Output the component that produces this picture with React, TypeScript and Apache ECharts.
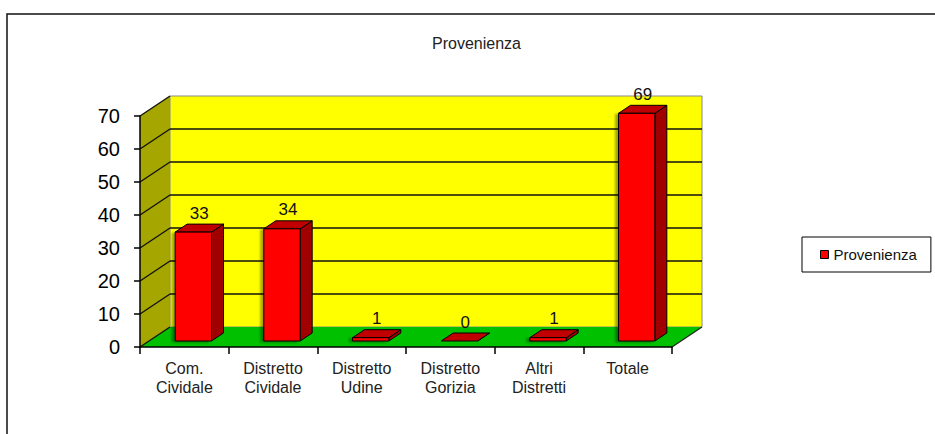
import React, { useEffect, useRef } from "react";
import * as echarts from "echarts";

const categories = [
  "Com.\nCividale",
  "Distretto\nCividale",
  "Distretto\nUdine",
  "Distretto\nGorizia",
  "Altri\nDistretti",
  "Totale",
];
const values = [33, 34, 1, 0, 1, 69];
const yMin = 0;
const yMax = 70;
const yStep = 10;
const yTicks = [0, 10, 20, 30, 40, 50, 60, 70];
const seriesName = "Provenienza";
const chartTitle = "Provenienza";

const FONT = "'Liberation Sans', Arial, Helvetica, sans-serif";
const DX = 30;
const DY = -20;

export default function App() {
  const ref = useRef<HTMLDivElement>(null);
  useEffect(() => {
    document.body.style.margin = "0";
    document.body.style.overflow = "hidden";
    if (!ref.current) return;
    const chart = echarts.init(ref.current, undefined, { renderer: "svg" });

    const wallsRender = (params: any, api: any) => {
      const cs = params.coordSys;
      const x0 = cs.x;
      const x1 = cs.x + cs.width;
      const yb = api.coord([0, yMin])[1];
      const yt = api.coord([0, yMax])[1];
      const children: any[] = [];
      children.push({
        type: "polygon",
        shape: { points: [[x0, yt], [x0 + DX, yt + DY], [x0 + DX, yb + DY], [x0, yb]] },
        style: { fill: "#a6a600", stroke: "none" },
      });
      children.push({
        type: "rect",
        shape: { x: x0 + DX, y: yt + DY, width: x1 - x0, height: yb - yt },
        style: { fill: "#ffff00", stroke: "#8a8a8a", lineWidth: 1 },
      });
      children.push({
        type: "polygon",
        shape: { points: [[x0, yb], [x0 + DX, yb + DY], [x1 + DX, yb + DY], [x1, yb]] },
        style: { fill: "#00c000", stroke: "none" },
      });
      children.push({
        type: "line",
        shape: { x1: x1, y1: yb, x2: x1 + DX, y2: yb + DY },
        style: { stroke: "#222", lineWidth: 1.2 },
      });
      yTicks.forEach((v) => {
        const y = api.coord([0, v])[1];
        children.push({
          type: "line",
          shape: { x1: x0, y1: y, x2: x0 + DX, y2: y + DY },
          style: { stroke: "#111", lineWidth: 1.3 },
        });
        if (v > yMin && v < yMax) {
          children.push({
            type: "line",
            shape: { x1: x0 + DX, y1: y + DY, x2: x1 + DX, y2: y + DY },
            style: { stroke: "#111", lineWidth: 1.3 },
          });
        }
      });
      return { type: "group", children };
    };

    const barsRender = (params: any, api: any) => {
      const i = api.value(0);
      const v = api.value(1);
      const b = api.coord([i, 0]);
      const t = api.coord([i, v]);
      const band = api.size([1, 0])[0];
      const hw = band * 0.205;
      const f1 = 0.3;
      const f2 = 0.7;
      const ax = DX * f1, ay = DY * f1, bx = DX * f2, by = DY * f2;
      const cx = b[0];
      const L = cx - hw;
      const R = cx + hw;
      return {
        type: "group",
        children: [
          {
            type: "polygon",
            shape: {
              points: [[R + ax, t[1] + ay], [R + bx, t[1] + by], [R + bx, b[1] + by], [R + ax, b[1] + ay]],
            },
            style: { fill: "#a00000", stroke: "#000", lineWidth: 1 },
          },
          {
            type: "polygon",
            shape: {
              points: [[L + ax, t[1] + ay], [L + bx, t[1] + by], [R + bx, t[1] + by], [R + ax, t[1] + ay]],
            },
            style: { fill: "#c00000", stroke: "#000", lineWidth: 1 },
          },
          {
            type: "rect",
            shape: { x: L + ax, y: t[1] + ay, width: 2 * hw, height: b[1] - t[1] },
            style: {
              fill: "#ff0000",
              stroke: "#000",
              lineWidth: 1,
              shadowColor: "rgba(0,0,0,0.35)",
              shadowBlur: 2,
              shadowOffsetX: -3,
              shadowOffsetY: 1,
            },
          },
          {
            type: "text",
            style: {
              text: String(v),
              x: cx + DX * 0.5,
              y: t[1] + DY * 0.5 - 15,
              fill: "#111",
              font: `17px ${FONT}`,
              align: "center",
              verticalAlign: "middle",
            },
          },
        ],
      };
    };

    chart.setOption({
      animation: false,
      backgroundColor: "#ffffff",
      title: {
        text: chartTitle,
        left: 432,
        top: 35,
        padding: 0,
        textStyle: { fontSize: 16, fontWeight: "normal", color: "#222", fontFamily: FONT },
      },
      legend: {
        data: [
          {
            name: seriesName,
            icon: "rect",
            itemStyle: { color: "#ff0000", borderColor: "#000", borderWidth: 1 },
          },
        ],
        left: 802,
        top: 237,
        orient: "vertical",
        itemWidth: 8,
        itemHeight: 8,
        padding: [10, 14, 10, 18],
        borderColor: "#000",
        borderWidth: 1,
        backgroundColor: "#fff",
        textStyle: { fontSize: 15, color: "#111", fontFamily: FONT },
      },
      grid: { left: 140, top: 116, width: 532, height: 231 },
      xAxis: {
        type: "category",
        data: categories,
        z: 5,
        axisLine: { show: true, lineStyle: { color: "#000", width: 1.5 } },
        axisTick: { show: true, length: 7, lineStyle: { color: "#000", width: 1.5 } },
        axisLabel: {
          interval: 0,
          margin: 12,
          fontSize: 16,
          lineHeight: 19,
          color: "#222",
          fontFamily: FONT,
        },
        splitLine: { show: false },
      },
      yAxis: {
        type: "value",
        min: yMin,
        max: yMax,
        interval: yStep,
        z: 5,
        axisLine: { show: true, lineStyle: { color: "#000", width: 1.5 } },
        axisTick: { show: true, length: 6, lineStyle: { color: "#000", width: 1.5 } },
        axisLabel: { fontSize: 20, color: "#000", margin: 20, fontFamily: FONT },
        splitLine: { show: false },
      },
      graphic: [
        {
          type: "rect",
          shape: { x: 7, y: 14, width: 940, height: 440 },
          style: { fill: "none", stroke: "#111", lineWidth: 1.5 },
          z: -1,
        },
      ],
      series: [
        {
          type: "custom",
          name: "walls",
          z: 1,
          clip: false,
          silent: true,
          renderItem: wallsRender,
          data: [[0, 0]],
          encode: { x: 0, y: 1 },
        },
        {
          type: "custom",
          name: seriesName,
          z: 3,
          clip: false,
          itemStyle: { color: "#ff0000" },
          renderItem: barsRender,
          data: values.map((v, i) => [i, v]),
          encode: { x: 0, y: 1 },
        },
      ],
    });
    return () => chart.dispose();
  }, []);
  return <div ref={ref} style={{ width: 935, height: 434 }} />;
}
